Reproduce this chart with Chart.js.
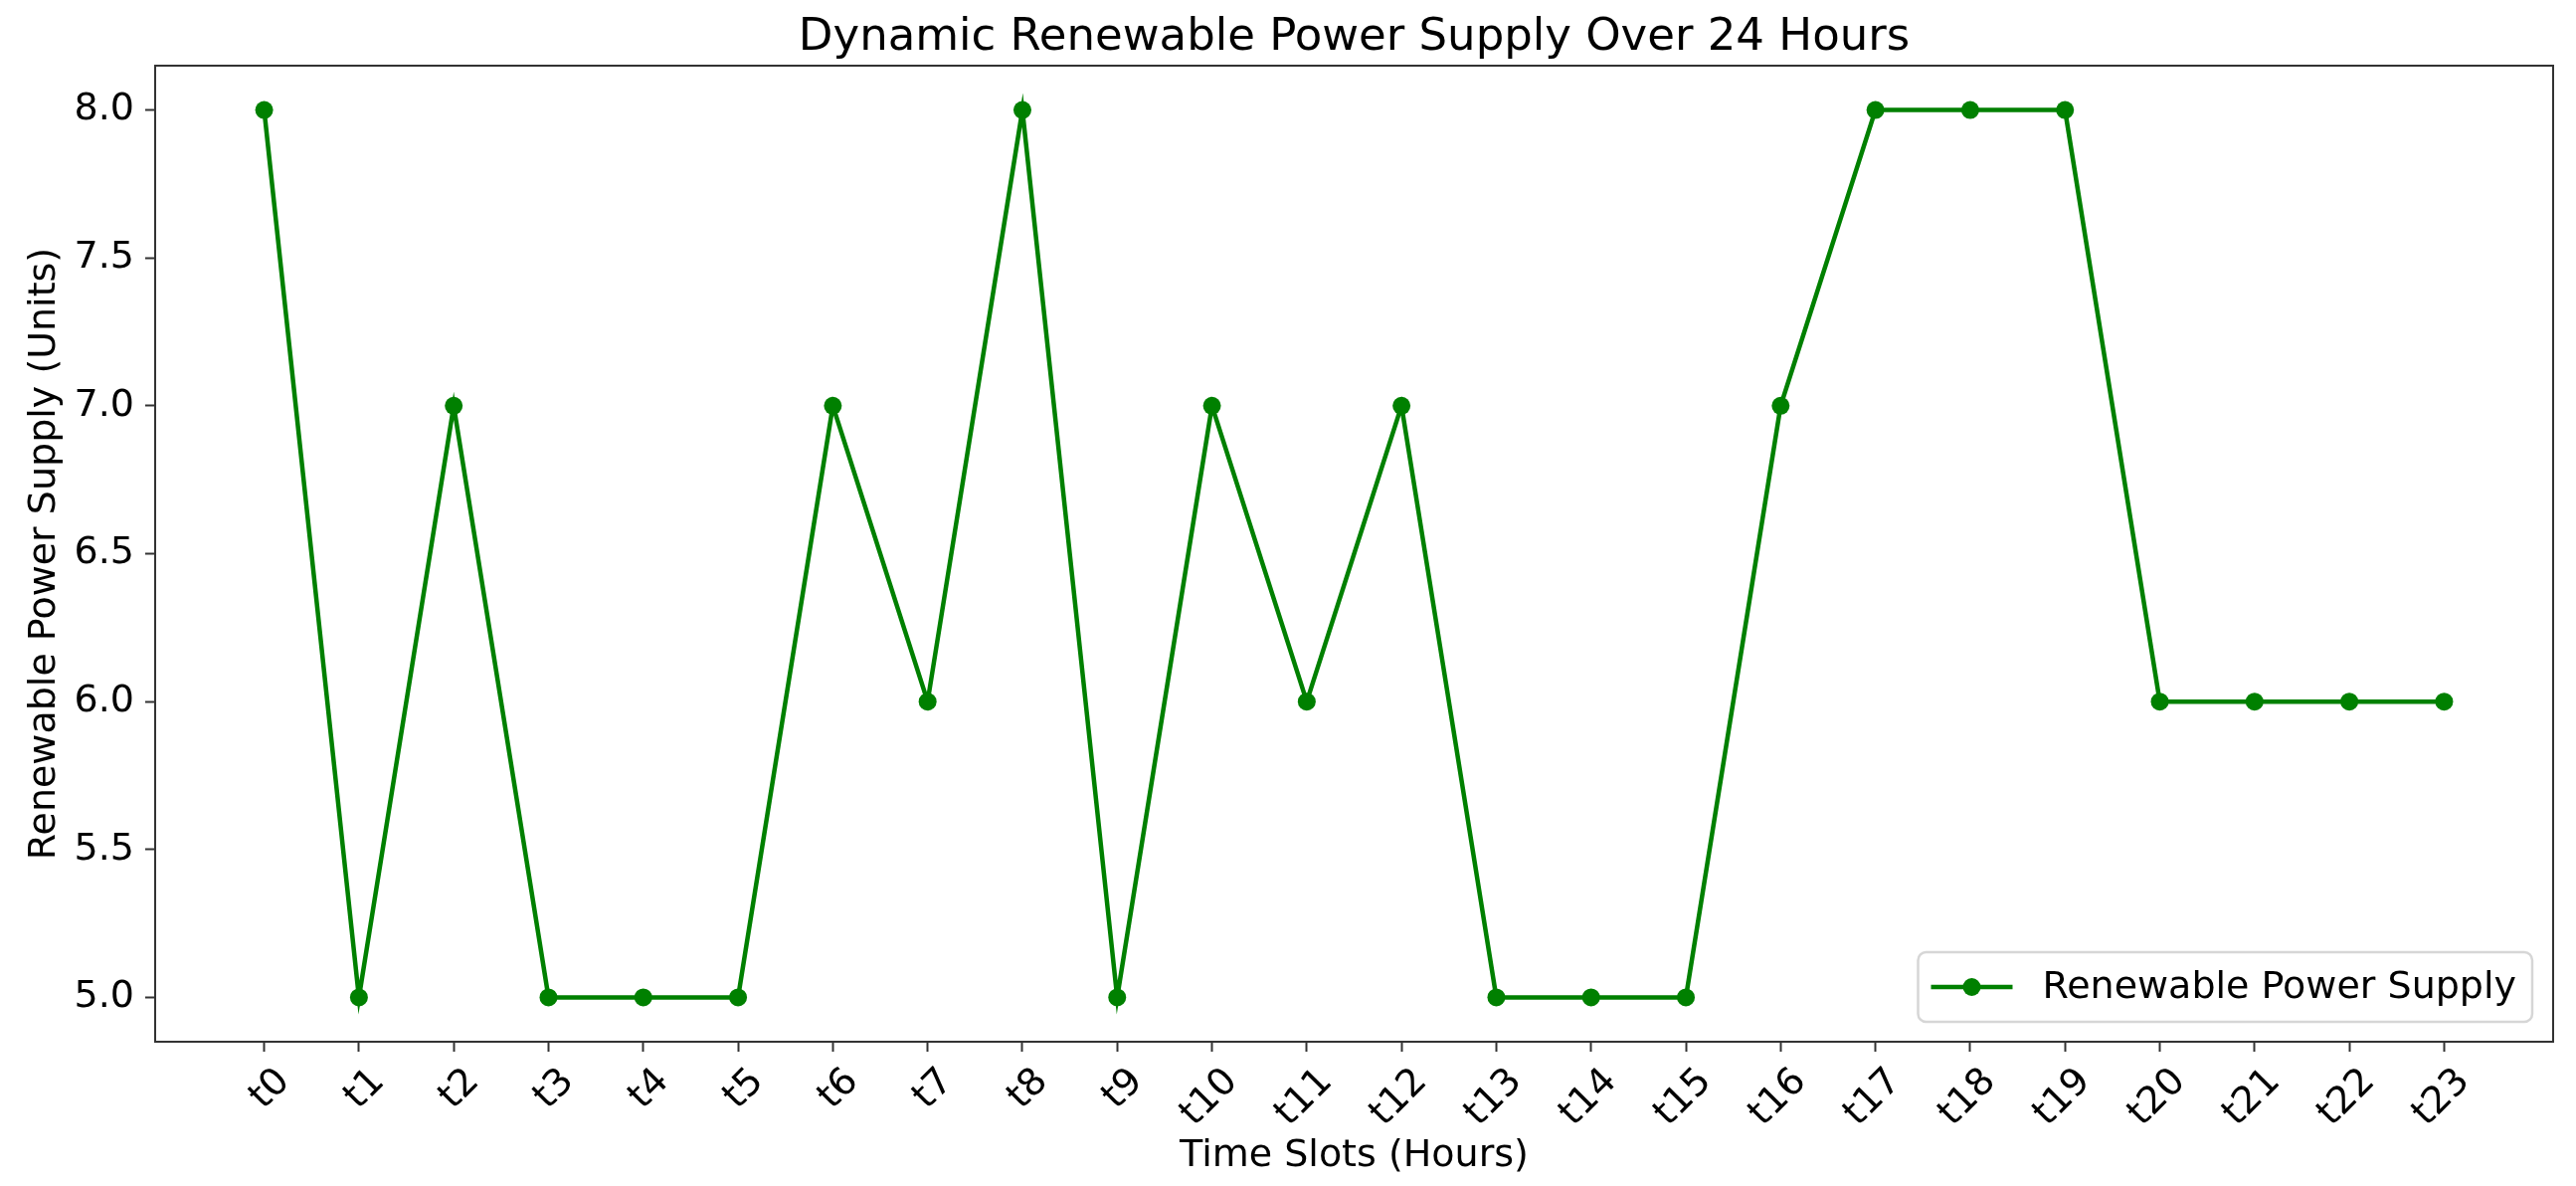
<!DOCTYPE html>
<html>
<head>
<meta charset="utf-8">
<title>Dynamic Renewable Power Supply Over 24 Hours</title>
<script src="https://cdn.jsdelivr.net/npm/chart.js@4.4.1/dist/chart.umd.min.js"></script>
<style>
  html, body { margin: 0; padding: 0; background: #fff; }
</style>
</head>
<body>
<canvas id="supplyChart" width="2590" height="1192"></canvas>
<script>
// data
const timeSlots = ['t0', 't1', 't2', 't3', 't4', 't5', 't6', 't7', 't8', 't9', 't10', 't11',
                   't12', 't13', 't14', 't15', 't16', 't17', 't18', 't19', 't20', 't21', 't22', 't23'];
const supplyValues = [8, 5, 7, 5, 5, 5, 7, 6, 8, 5, 7, 6, 7, 5, 5, 5, 7, 8, 8, 8, 6, 6, 6, 6];
const yTickValues = [5.0, 5.5, 6.0, 6.5, 7.0, 7.5, 8.0];

const chartTitle = 'Dynamic Renewable Power Supply Over 24 Hours';
const seriesLabel = 'Renewable Power Supply';
const fontFamily = '"DejaVu Sans"';

Chart.defaults.font.family = fontFamily;

// axes frame (all four sides) and the title centred over the plot
const frameAndTitle = {
    id: 'frameAndTitle',
    afterDraw(chart) {
        const { ctx, chartArea: a } = chart;
        ctx.save();
        ctx.strokeStyle = '#333';
        ctx.lineWidth = 2;
        ctx.strokeRect(a.left, a.top, a.right - a.left, a.bottom - a.top);
        ctx.fillStyle = '#000';
        ctx.font = '45px ' + fontFamily;
        ctx.textAlign = 'center';
        ctx.textBaseline = 'alphabetic';
        ctx.fillText(chartTitle, (a.left + a.right) / 2, a.top - 16);
        ctx.restore();
    }
};

// matplotlib style legend in the lower right corner of the plot
const insideLegend = {
    id: 'insideLegend',
    afterDraw(chart) {
        const { ctx, chartArea: a } = chart;
        const ds = chart.data.datasets[0];
        ctx.save();
        ctx.font = '38px ' + fontFamily;
        const textW = ctx.measureText(ds.label).width;
        const boxW = 125 + textW + 16;
        const boxH = 70;
        const x = a.right - 21 - boxW;
        const y = a.bottom - 20 - boxH;
        ctx.beginPath();
        ctx.roundRect(x, y, boxW, boxH, 8);
        ctx.fillStyle = 'rgba(255,255,255,0.8)';
        ctx.fill();
        ctx.strokeStyle = '#d6d6d6';
        ctx.lineWidth = 2.5;
        ctx.stroke();

        const cy = y + boxH / 2;
        ctx.strokeStyle = ds.borderColor;
        ctx.lineWidth = ds.borderWidth;
        ctx.beginPath();
        ctx.moveTo(x + 13, cy);
        ctx.lineTo(x + 95, cy);
        ctx.stroke();
        ctx.beginPath();
        ctx.arc(x + 54, cy, ds.pointRadius, 0, Math.PI * 2);
        ctx.fillStyle = ds.pointBackgroundColor;
        ctx.fill();

        ctx.fillStyle = '#000';
        ctx.textAlign = 'left';
        ctx.textBaseline = 'middle';
        ctx.fillText(ds.label, x + 125, cy + 1);
        ctx.restore();
    }
};

document.addEventListener('DOMContentLoaded', function() {
    const ctx = document.getElementById('supplyChart').getContext('2d');
    const axisFont = { size: 38, family: fontFamily };
    const tickGrid = {
        drawOnChartArea: false,
        drawTicks: true,
        tickLength: 10,
        tickWidth: 2,
        tickColor: '#333'
    };

    new Chart(ctx, {
        type: 'line',
        data: {
            datasets: [{
                label: seriesLabel,
                data: supplyValues.map((v, i) => ({ x: i, y: v })),
                borderColor: '#008000',
                backgroundColor: '#008000',
                pointBackgroundColor: '#008000',
                pointBorderWidth: 0,
                pointRadius: 9,
                pointHoverRadius: 9,
                borderWidth: 4.5,
                fill: false,
                tension: 0
            }]
        },
        options: {
            responsive: false,
            animation: false,
            layout: {
                padding: { top: 66, right: 23, left: 0, bottom: 0 }
            },
            scales: {
                x: {
                    type: 'linear',
                    min: -1.15,
                    max: 24.15,
                    afterBuildTicks: s => { s.ticks = timeSlots.map((_, i) => ({ value: i })); },
                    afterFit: s => { s.height = 145; },
                    ticks: {
                        callback: v => timeSlots[v],
                        autoSkip: false,
                        minRotation: 45,
                        maxRotation: 45,
                        padding: 8,
                        labelOffset: 20,
                        color: '#000',
                        font: axisFont
                    },
                    grid: tickGrid,
                    border: { color: '#333', width: 2 },
                    title: {
                        display: true,
                        text: 'Time Slots (Hours)',
                        color: '#000',
                        font: axisFont,
                        padding: { top: 0, bottom: 7 }
                    }
                },
                y: {
                    min: 4.85,
                    max: 8.15,
                    afterBuildTicks: s => { s.ticks = yTickValues.map(v => ({ value: v })); },
                    afterFit: s => { s.width = 156; },
                    ticks: {
                        callback: v => v.toFixed(1),
                        padding: 11,
                        color: '#000',
                        font: axisFont
                    },
                    grid: tickGrid,
                    border: { color: '#333', width: 2 },
                    title: {
                        display: true,
                        text: 'Renewable Power Supply (Units)',
                        color: '#000',
                        font: axisFont,
                        padding: { top: 22, bottom: 0 }
                    }
                }
            },
            plugins: {
                legend: { display: false },
                tooltip: { enabled: false },
                title: { display: false }
            }
        },
        plugins: [frameAndTitle, insideLegend]
    });
});
</script>
</body>
</html>
